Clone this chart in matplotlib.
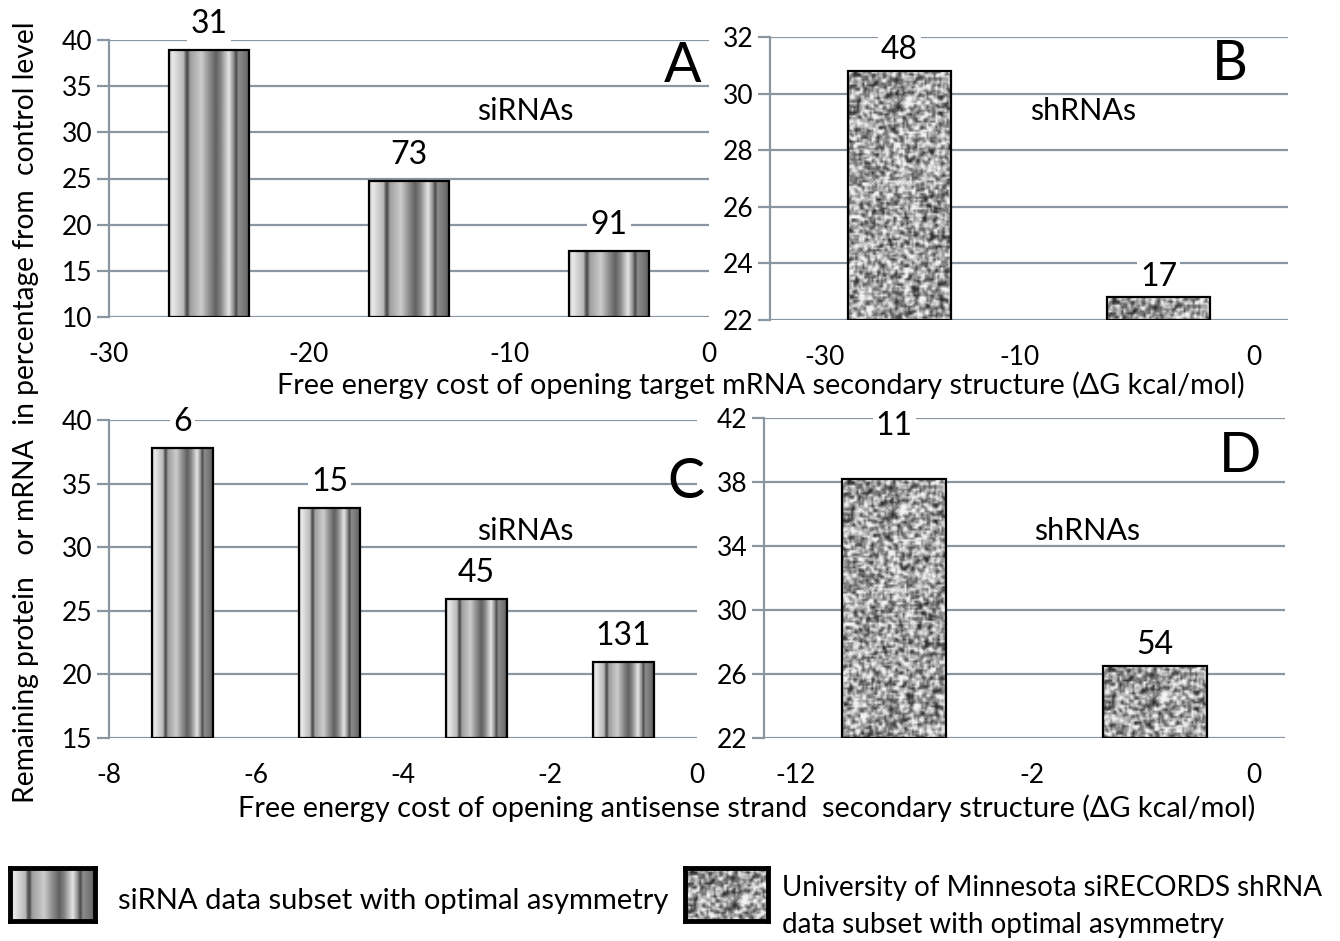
import numpy as np
import matplotlib
matplotlib.use('Agg')
import matplotlib.pyplot as plt

plt.rcParams['font.family'] = ['Lato', 'DejaVu Sans']
plt.rcParams['axes.unicode_minus'] = False

W, H = 1340, 941

# ---- data ----
a_x = [-25, -15, -5]
a_val = [38.9, 24.7, 17.1]
a_n = [31, 73, 91]

b_x = [0, 1]
b_val = [30.8, 22.8]
b_n = [48, 17]
b_ticklabels = ['-30', '-10', '0']

c_x = [-7, -5, -3, -1]
c_val = [37.8, 33.1, 25.9, 21.0]
c_n = [6, 15, 45, 131]

d_x = [0, 1]
d_val = [38.2, 26.5]
d_n = [11, 54]
d_ticklabels = ['-12', '-2', '0']

GRID = '#8a96a2'


def stripes(wpx, hpx):
    u = np.linspace(0, 1, 240)
    knots = [0, .04, .18, .21, .23, .26, .4, .5, .58, .64, .74, .8, .83, .86, .95, 1]
    vals = [.7, .92, .72, .35, .3, .62, .8, .55, .38, .52, .9, .55, .28, .55, .45, .35]
    return np.tile(np.interp(u, knots, vals), (2, 1))


def hash01(i, j):
    x = (i.astype(np.uint64) * 374761393 + j.astype(np.uint64) * 668265263) % (2 ** 32)
    x = (x ^ (x >> 13)) * 1274126177 % (2 ** 32)
    x = x ^ (x >> 16)
    return x.astype(float) / 2 ** 32


def speckle(wpx, hpx, cell=1.8):
    nx, ny = max(int(wpx / cell), 4), max(int(hpx / cell), 4)
    j, i = np.meshgrid(np.arange(nx + 2), np.arange(ny + 2))
    h = hash01(i, j)
    s = (h[1:-1, 1:-1] * 2 + h[:-2, 1:-1] + h[2:, 1:-1] + h[1:-1, :-2] + h[1:-1, 2:]) / 6
    s = (s - 0.5) * 1.5 + 0.63
    return np.clip(s, 0.18, 0.95)


def px(x, y):
    return x / W, 1 - y / H


def textured_bars(ax, x, vals, width, base, make_img, interp):
    bars = ax.bar(x, np.array(vals) - base, width, bottom=base,
                  facecolor='none', edgecolor='black', lw=1.6, zorder=4)
    for r in bars:
        x0, y0 = r.get_x(), r.get_y()
        x1, y1 = x0 + r.get_width(), y0 + r.get_height()
        (p0, q0), (p1, q1) = ax.transData.transform([(x0, y0), (x1, y1)])
        img = make_img(abs(p1 - p0), abs(q1 - q0))
        ax.imshow(img, extent=[x0, x1, y0, y1], aspect='auto', cmap='gray',
                  vmin=0, vmax=1, zorder=3, interpolation=interp)
    return bars


def style(ax, ylim, yticks):
    ax.set_ylim(*ylim)
    ax.set_yticks(yticks)
    ax.grid(axis='y', color=GRID, lw=1.6, zorder=0)
    ax.set_axisbelow(True)
    for s in ['top', 'right', 'bottom']:
        ax.spines[s].set_visible(False)
    ax.spines['left'].set_color(GRID)
    ax.spines['left'].set_linewidth(1.6)
    ax.tick_params(axis='y', direction='out', length=9, width=1.6, color=GRID,
                   labelsize=19, pad=3)
    ax.tick_params(axis='x', length=0, labelsize=19, pad=18)
    ax.set_facecolor('none')


def labels(ax, x, vals, ns, offsets):
    for xi, v, n, off in zip(x, vals, ns, offsets):
        ax.annotate(str(n), (xi, v), xytext=(0, off), textcoords='offset points',
                    ha='center', va='bottom', fontsize=23, zorder=3.5,
                    bbox=dict(boxstyle='square,pad=0.1', fc='white', ec='none'))


fig = plt.figure(figsize=(W / 100, H / 100), dpi=100)
fig.patch.set_facecolor('white')

# ---- A ----
axA = fig.add_axes([109 / W, 1 - 317 / H, 600 / W, 277 / H])
axA.set_xlim(-30, 0)
axA.set_xticks([-30, -20, -10, 0])
style(axA, (10, 40), range(10, 41, 5))
textured_bars(axA, a_x, a_val, 4, 10, stripes, 'bilinear')
labels(axA, a_x, a_val, a_n, [8, 8, 8])

# ---- B ----
axB = fig.add_axes([770 / W, 1 - 320 / H, 518 / W, 283 / H])
axB.set_xlim(-0.5, 1.5)
axB.set_xticks([-0.29, 0.465, 1.37], b_ticklabels)
style(axB, (22, 32), range(22, 33, 2))
textured_bars(axB, b_x, b_val, 0.4, 22, speckle, 'bilinear')
labels(axB, b_x, b_val, b_n, [4, 4])

# ---- C ----
axC = fig.add_axes([109 / W, 1 - 738 / H, 588 / W, 318 / H])
axC.set_xlim(-8, 0)
axC.set_xticks([-8, -6, -4, -2, 0])
style(axC, (15, 40), range(15, 41, 5))
textured_bars(axC, c_x, c_val, 0.82, 15, stripes, 'bilinear')
labels(axC, c_x, c_val, c_n, [8, 8, 8, 8])

# ---- D ----
axD = fig.add_axes([764 / W, 1 - 738 / H, 521 / W, 320 / H])
axD.set_xlim(-0.5, 1.5)
axD.set_xticks([-0.38, 0.53, 1.38], d_ticklabels)
style(axD, (22, 42), range(22, 43, 4))
textured_bars(axD, d_x, d_val, 0.4, 22, speckle, 'bilinear')
labels(axD, d_x, d_val, d_n, [27, 4])

# panel letters and group names
for t, (x, y) in zip('ABCD', [(683, 66), (1230, 64), (686, 482), (1240, 456)]):
    fig.text(*px(x, y), t, fontsize=40, ha='center', va='center')
for t, (x, y) in zip(['siRNAs', 'shRNAs', 'siRNAs', 'shRNAs'],
                     [(525, 111), (1083, 111), (525, 531), (1087, 531)]):
    fig.text(*px(x, y), t, fontsize=22, ha='center', va='center')

fig.text(*px(761, 385), 'Free energy cost of opening target mRNA secondary structure (\u0394G kcal/mol)',
         fontsize=20.7, ha='center', va='center')
fig.text(*px(747, 808), 'Free energy cost of opening antisense strand  secondary structure (\u0394G kcal/mol)',
         fontsize=20.8, ha='center', va='center')
fig.text(*px(26, 412), 'Remaining protein   or mRNA  in percentage from  control level',
         fontsize=20.3, rotation=90, ha='center', va='center')

# ---- legend ----
for (x0, x1), make_img in [((10, 95), stripes), ((685, 768), speckle)]:
    lax = fig.add_axes([x0 / W, 1 - 921 / H, (x1 - x0) / W, 53 / H])
    lax.imshow(make_img(x1 - x0, 53), aspect='auto', cmap='gray', vmin=0, vmax=1,
               interpolation='bilinear')
    lax.set_xticks([])
    lax.set_yticks([])
    for s in lax.spines.values():
        s.set_linewidth(3.5)
fig.text(*px(118, 901), 'siRNA data subset with optimal asymmetry', fontsize=21,
         ha='left', va='center')
fig.text(*px(782, 888), 'University of Minnesota siRECORDS shRNA', fontsize=20,
         ha='left', va='center')
fig.text(*px(782, 925), 'data subset with optimal asymmetry', fontsize=20,
         ha='left', va='center')

fig.savefig('out.png', dpi=100)
